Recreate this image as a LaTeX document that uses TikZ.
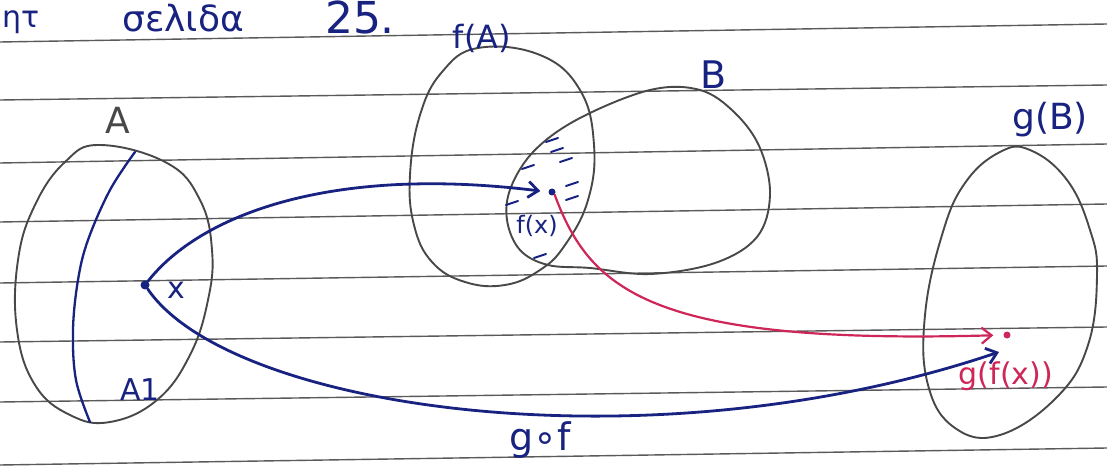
\documentclass[tikz,border=0pt]{standalone}
\usepackage{fontspec}
\setmainfont{DejaVu Sans}
\usetikzlibrary{arrows.meta}

\definecolor{inkblue}{RGB}{24,34,128}
\definecolor{inkred}{RGB}{206,38,88}
\definecolor{pencil}{RGB}{72,72,72}
\definecolor{ruling}{RGB}{90,90,90}

\newcommand{\handsize}[1]{\fontsize{#1}{#1}\selectfont}

\begin{document}
\begin{tikzpicture}[line cap=round, line join=round, x=1pt, y=-1pt,
    ruled/.style={color=ruling, line width=1.4pt},
    setline/.style={color=pencil, line width=1.9pt},
    inkline/.style={color=inkblue, line width=2.8pt},
    redline/.style={color=inkred, line width=2.2pt},
    barb/.style={-{Straight Barb[length=10pt, width=16pt]}},
    bluetext/.style={color=inkblue, inner sep=0pt},
    redtext/.style={color=inkred, inner sep=0pt},
    dot/.style={circle, fill, minimum size=9pt, inner sep=0pt}]

    % Fondo de la hoja
    \fill[white] (0,0) rectangle (1107,470);
    \useasboundingbox (0,0) rectangle (1107,470);

    % Rayado del cuaderno
    \foreach \yl/\yr in {42/24,100/85,163/144,222/204,283/266,342/327,402/387,465/448}
    \draw[ruled] (0,\yl) -- (1107,\yr);

    % Texto de arriba
    \node[bluetext, anchor=west, font=\handsize{30}] (head1) at (2,22) {ητ};
    \node[bluetext, font=\handsize{36}] (head2) at (183,18) {σελιδα};
    \node[bluetext, font=\handsize{44}] (head3) at (360,17) {25.};

    % Conjunto A y el arco A1
    \draw[setline] plot[smooth cycle, tension=0.7] coordinates {(100,145) (167,163) (200,200) (212,250) (208,300) (190,355) (157,400) (110,422) (70,415) (35,385) (17,330) (18,260) (35,205) (65,162)};
    \draw[inkline, line width=2.3pt] plot[smooth, tension=0.6] coordinates {(135,152) (110,190) (88,240) (78,280) (73,330) (76,380) (90,422)};

    % Conjuntos f(A), B y g(B)
    \draw[setline] plot[smooth cycle, tension=0.7] coordinates {(478,48) (540,55) (580,90) (594,145) (588,200) (565,245) (540,270) (505,285) (465,282) (432,262) (414,225) (410,175) (420,115) (442,72)};
    \draw[setline] plot[smooth cycle, tension=0.6] coordinates {(650,90) (700,90) (735,113) (760,148) (770,195) (757,237) (715,263) (650,274) (590,268) (548,265) (520,250) (507,220) (511,187) (535,150) (580,118)};
    \draw[setline] plot[smooth cycle, tension=0.7] coordinates {(1000,152) (1030,150) (1067,180) (1090,230) (1097,275) (1088,345) (1057,397) (1000,435) (955,428) (928,385) (925,315) (942,235) (965,183)};

    % Rayitas en la interseccion
    \foreach \hx/\hy in {552/140,557/150,566/160,528/167,572/184,572/198,512/203,540/256}
    \draw[color=inkblue, line width=2pt] (\hx-6,\hy+2) -- (\hx+6,\hy-2);

    % Puntos x, f(x), g(f(x))
    \node[dot, color=inkblue] (x) at (145,285) {};
    \node[dot, color=inkblue, minimum size=7pt] (fx) at (552,192) {};
    \node[dot, color=inkred, minimum size=7pt] (gfx) at (1007,335) {};
    \coordinate (gfxin) at (999,352);

    % Flechas
    \draw[inkline, barb, shorten >=8pt] (x) .. controls (200,215) and (330,165) .. (fx.west);
    \draw[redline, barb, shorten >=10pt] (fx.south east) .. controls (590,290) and (650,345) .. (gfx.west);
    \draw[inkline, barb] (x) .. controls (230,410) and (650,470) .. (gfxin);

    % Etiquetas
    \node[color=pencil, inner sep=0pt, font=\handsize{36}] (lblA) at (118,120) {A};
    \node[bluetext, font=\handsize{30}] (lblA1) at (140,390) {A1};
    \node[bluetext, font=\handsize{30}] (lblx) at (176,290) {x};
    \node[bluetext, font=\handsize{32}] (lblfA) at (482,38) {f(A)};
    \node[bluetext, font=\handsize{38}] (lblB) at (714,75) {B};
    \node[bluetext, font=\handsize{36}] (lblgB) at (1050,120) {g(B)};
    \node[bluetext, font=\handsize{24}] (lblfx) at (537,226) {f(x)};
    \node[redtext, font=\handsize{30}] (lblgfx) at (1006,376) {g(f(x))};
    \node[bluetext, font=\handsize{38}] (lblgof) at (540,440) {g∘f};

\end{tikzpicture}
\end{document}
